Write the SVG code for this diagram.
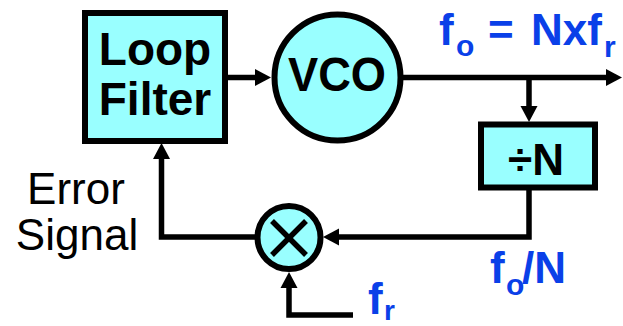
<svg xmlns="http://www.w3.org/2000/svg" width="623" height="326" viewBox="0 0 623 326">
<style>
.blk{fill:#99FFFF;stroke:#000;stroke-width:6}
.ln{fill:none;stroke:#000;stroke-width:5.5;stroke-linejoin:miter}
.bt{font-family:"Liberation Sans",Arial,sans-serif;font-weight:bold;fill:#000}
.lt{font-family:"Liberation Sans",Arial,sans-serif;fill:#000}
.bl{font-family:"Liberation Sans",Arial,sans-serif;font-weight:bold;fill:#0A40E8}
</style>
<defs>
<marker id="ah" markerUnits="userSpaceOnUse" markerWidth="17" markerHeight="18" refX="0" refY="8.5" orient="auto" viewBox="0 0 17 17">
<path d="M0,0 L16,8.5 L0,17 z" fill="#000"/>
</marker>
</defs>
<g id="connectors">
<path class="ln" d="M228,77.5 H255" marker-end="url(#ah)"/>
<path class="ln" d="M403,77.5 H606" marker-end="url(#ah)"/>
<path class="ln" d="M529,77.5 V106" marker-end="url(#ah)"/>
<path class="ln" d="M529,190 V237 H339" marker-end="url(#ah)"/>
<path class="ln" d="M255,237 H161.5 V159" marker-end="url(#ah)"/>
<path class="ln" d="M353,315 H289 V288" marker-end="url(#ah)"/>
</g>
<g id="loopfilter">
<rect class="blk" x="85" y="13" width="140" height="128"/>
<text class="bt" x="155" y="65" font-size="46" text-anchor="middle">Loop</text>
<text class="bt" x="155" y="115" font-size="46" text-anchor="middle">Filter</text>
</g>
<g id="vco">
<circle class="blk" cx="337.5" cy="77.5" r="63"/>
<text class="bt" x="337" y="91" font-size="48" text-anchor="middle" textLength="98" lengthAdjust="spacingAndGlyphs">VCO</text>
</g>
<g id="divider">
<rect class="blk" x="481" y="124.5" width="114" height="63"/>
<text class="bt" x="536" y="175" font-size="44" text-anchor="middle">÷N</text>
</g>
<g id="mixer">
<circle class="blk" cx="289" cy="237.5" r="31.5"/>
<path d="M272,221 L306,255 M306,221 L272,255" stroke="#000" stroke-width="5.5"/>
</g>
<g id="labels">
<text class="lt" x="76" y="204" font-size="44" text-anchor="middle">Error</text>
<text class="lt" x="77" y="250" font-size="44" text-anchor="middle">Signal</text>
<text class="bl" font-size="44"><tspan x="439" y="45">f</tspan><tspan x="456" y="56" font-size="30">o</tspan><tspan x="488" y="45">=</tspan><tspan x="531" y="45">Nxf</tspan><tspan x="604" y="57" font-size="30">r</tspan></text>
<text class="bl" font-size="44"><tspan x="490" y="283">f</tspan><tspan x="506" y="295" font-size="30">o</tspan><tspan x="522" y="283">/N</tspan></text>
<text class="bl" font-size="44"><tspan x="368" y="314">f</tspan><tspan x="384" y="320" font-size="28">r</tspan></text>
</g>
</svg>
